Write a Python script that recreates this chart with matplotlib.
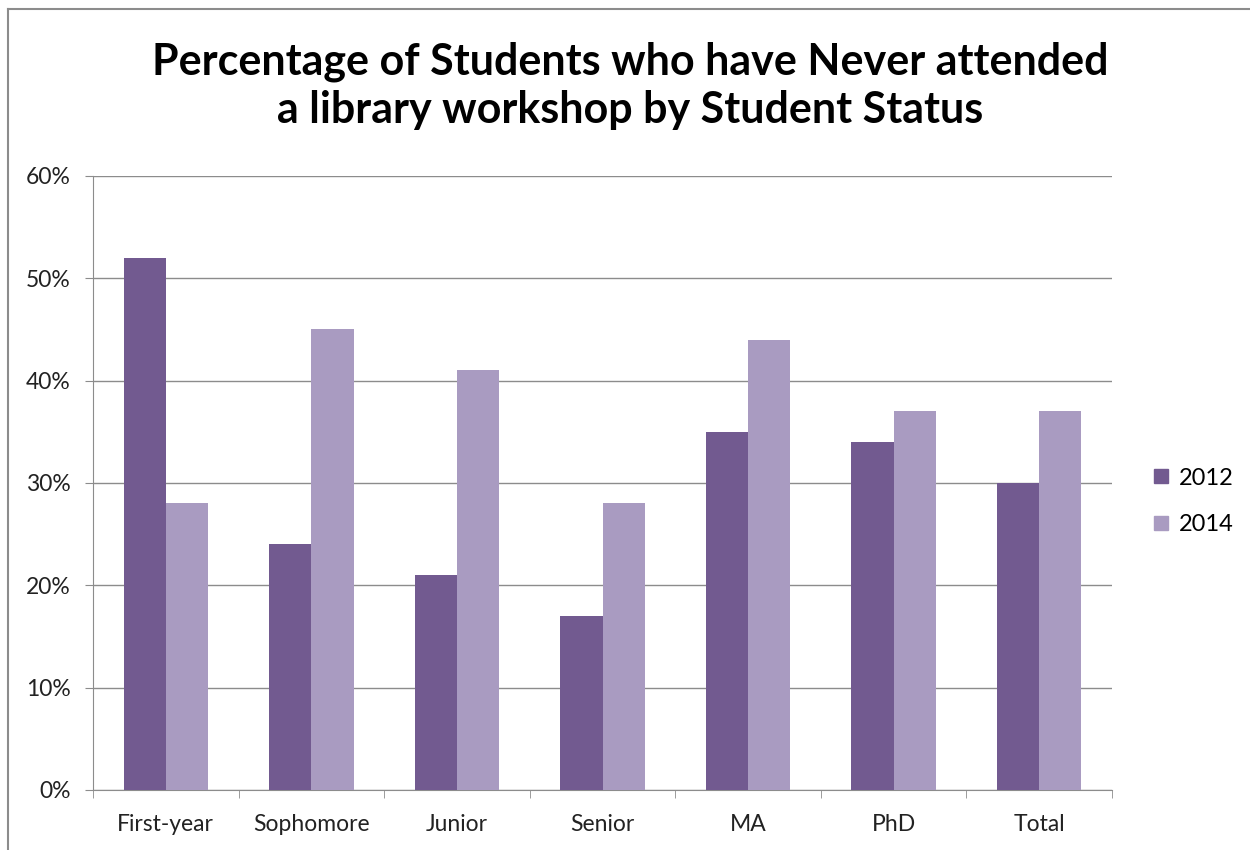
#!/usr/bin/env python3
"""Grouped bars: share of students who never attended a library workshop."""

import matplotlib.pyplot as plt
import numpy as np
from matplotlib.lines import Line2D
from matplotlib.ticker import FixedLocator, PercentFormatter

categories = ["First-year", "Sophomore", "Junior", "Senior", "MA", "PhD", "Total"]
pct_2012 = [52, 24, 21, 17, 35, 34, 30]
pct_2014 = [28, 45, 41, 28, 44, 37, 37]
series_labels = ["2012", "2014"]

DARK = "#725A90"
LIGHT = "#A99BC1"
GRID = "#8C8C8C"

plt.rcParams["font.family"] = ["Lato", "DejaVu Sans"]

fig = plt.figure(figsize=(12.5, 8.5), dpi=100)
ax = fig.add_axes([0.0744, 0.0706, 0.8152, 0.7224])

x = np.arange(len(categories))
width = 0.29
ax.bar(x - width / 2, pct_2012, width, color=DARK, label=series_labels[0], zorder=3)
ax.bar(x + width / 2, pct_2014, width, color=LIGHT, label=series_labels[1], zorder=3)

ax.set_xlim(-0.5, len(categories) - 0.5)
ax.set_ylim(0, 60)
ax.set_yticks(np.arange(0, 61, 10))
ax.yaxis.set_major_formatter(PercentFormatter(decimals=0))
ax.set_xticks(x)
ax.set_xticklabels(categories)
ax.xaxis.set_minor_locator(FixedLocator(np.arange(-0.5, len(categories), 1)))

ax.grid(axis="y", color=GRID, linewidth=1, zorder=0)
for side in ("top", "right"):
    ax.spines[side].set_visible(False)
for side in ("left", "bottom"):
    ax.spines[side].set_color(GRID)
ax.tick_params(axis="y", length=6, color=GRID, labelsize=16.5, pad=10, labelcolor="#222222")
ax.tick_params(axis="x", which="major", length=0, labelsize=16.5, pad=17, labelcolor="#222222")
ax.tick_params(axis="x", which="minor", length=6, color=GRID)

handles = [
    Line2D([], [], marker="s", linestyle="none", markersize=10, color=DARK),
    Line2D([], [], marker="s", linestyle="none", markersize=10, color=LIGHT),
]
fig.legend(handles, series_labels, loc="center left", bbox_to_anchor=(0.912, 0.41),
           frameon=False, fontsize=17, handlelength=0.8, handletextpad=0.35,
           labelspacing=1.1, borderpad=0)

fig.text(0.504, 0.899, "Percentage of Students who have Never attended\n"
         "a library workshop by Student Status",
         ha="center", va="center", fontsize=31, fontweight="bold", linespacing=1.25)

# partial outer frame, as in the exported chart
fig.add_artist(Line2D([0.0064, 1.0], [0.9894, 0.9894], transform=fig.transFigure,
                      color="#8C8C8C", linewidth=1.5))
fig.add_artist(Line2D([0.0064, 0.0064], [0.0, 0.9894], transform=fig.transFigure,
                      color="#8C8C8C", linewidth=1.5))

fig.savefig("out.png", dpi=100, facecolor="white")
